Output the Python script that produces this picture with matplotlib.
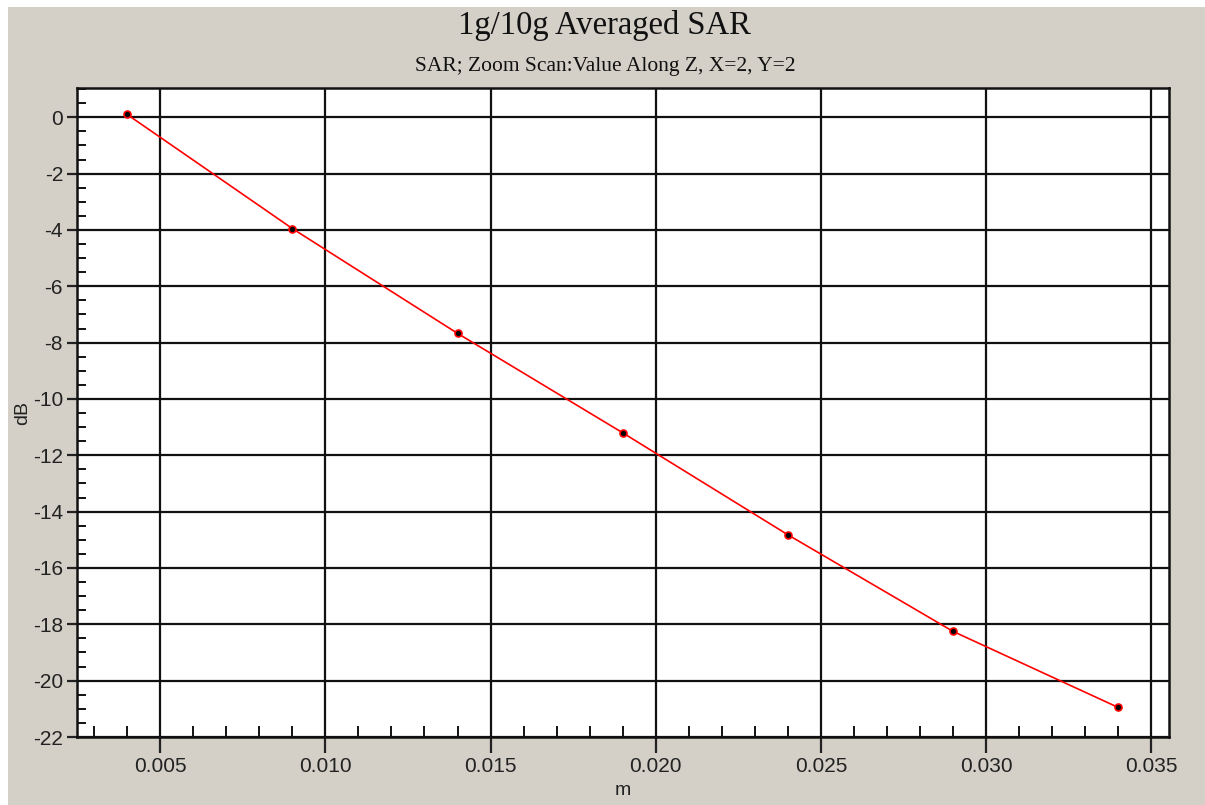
import matplotlib
matplotlib.use('Agg')
import matplotlib.pyplot as plt
from matplotlib.patches import Rectangle
from matplotlib.ticker import MultipleLocator, FormatStrFormatter

# valeurs
depth_m = [0.004, 0.009, 0.014, 0.019, 0.024, 0.029, 0.034]
sar_db = [0.1, -3.95, -7.67, -11.2, -14.82, -18.25, -20.95]

title = '1g/10g Averaged SAR'
subtitle = 'SAR; Zoom Scan:Value Along Z, X=2, Y=2'

plt.rcParams['font.family'] = ['Liberation Sans', 'DejaVu Sans']
plt.rcParams['axes.unicode_minus'] = False

gray = '#d4d0c8'
fig = plt.figure(figsize=(12.05, 8.05), dpi=100, facecolor='white')
# fond gris avec une fine bande blanche en haut et a gauche
fig.patches.append(Rectangle((8 / 1205, 0), 1, 1 - 7 / 805, transform=fig.transFigure,
                             facecolor=gray, edgecolor='none', zorder=-10))

ax = fig.add_axes([77 / 1205, 1 - 737 / 805, (1169 - 77) / 1205, (737 - 88) / 805])
ax.set_facecolor('white')

ax.plot(depth_m, sar_db, color='red', linewidth=1.2, marker='o', markersize=5,
        markerfacecolor='black', markeredgecolor='red', markeredgewidth=1.2, zorder=3)

ax.set_xlim(0.00248, 0.03554)
ax.set_ylim(-22, 1.04)

ax.xaxis.set_major_locator(MultipleLocator(0.005))
ax.xaxis.set_minor_locator(MultipleLocator(0.001))
ax.xaxis.set_major_formatter(FormatStrFormatter('%.3f'))
ax.yaxis.set_major_locator(MultipleLocator(2))
ax.yaxis.set_minor_locator(MultipleLocator(0.5))

ax.grid(True, which='major', color='#111111', linewidth=1.6)
ax.set_axisbelow(True)

ax.tick_params(axis='x', which='major', direction='out', length=11.5, width=1.6,
               labelsize=15, pad=3, colors='#222222')
ax.tick_params(axis='x', which='minor', direction='in', length=8, width=1.4, colors='#111111')
ax.tick_params(axis='y', which='major', direction='out', length=7, width=1.6,
               labelsize=15, pad=3, colors='#222222')
ax.tick_params(axis='y', which='minor', direction='in', length=6.5, width=1.4, colors='#111111')

for side in ax.spines.values():
    side.set_linewidth(1.8)
    side.set_color('#111111')

ax.set_xlabel('m', fontsize=14, labelpad=4, color='#222222')
ax.set_ylabel('dB', fontsize=14, labelpad=1, color='#222222')

fig.text(0.502, 1 - 34 / 805, title, ha='center', va='baseline',
         fontsize=23.5, family='Liberation Serif', color='#111111')
fig.text(0.502, 1 - 71 / 805, subtitle, ha='center', va='baseline',
         fontsize=15.5, family='Liberation Serif', color='#111111')

fig.savefig('out.png', dpi=100, facecolor=fig.get_facecolor())
